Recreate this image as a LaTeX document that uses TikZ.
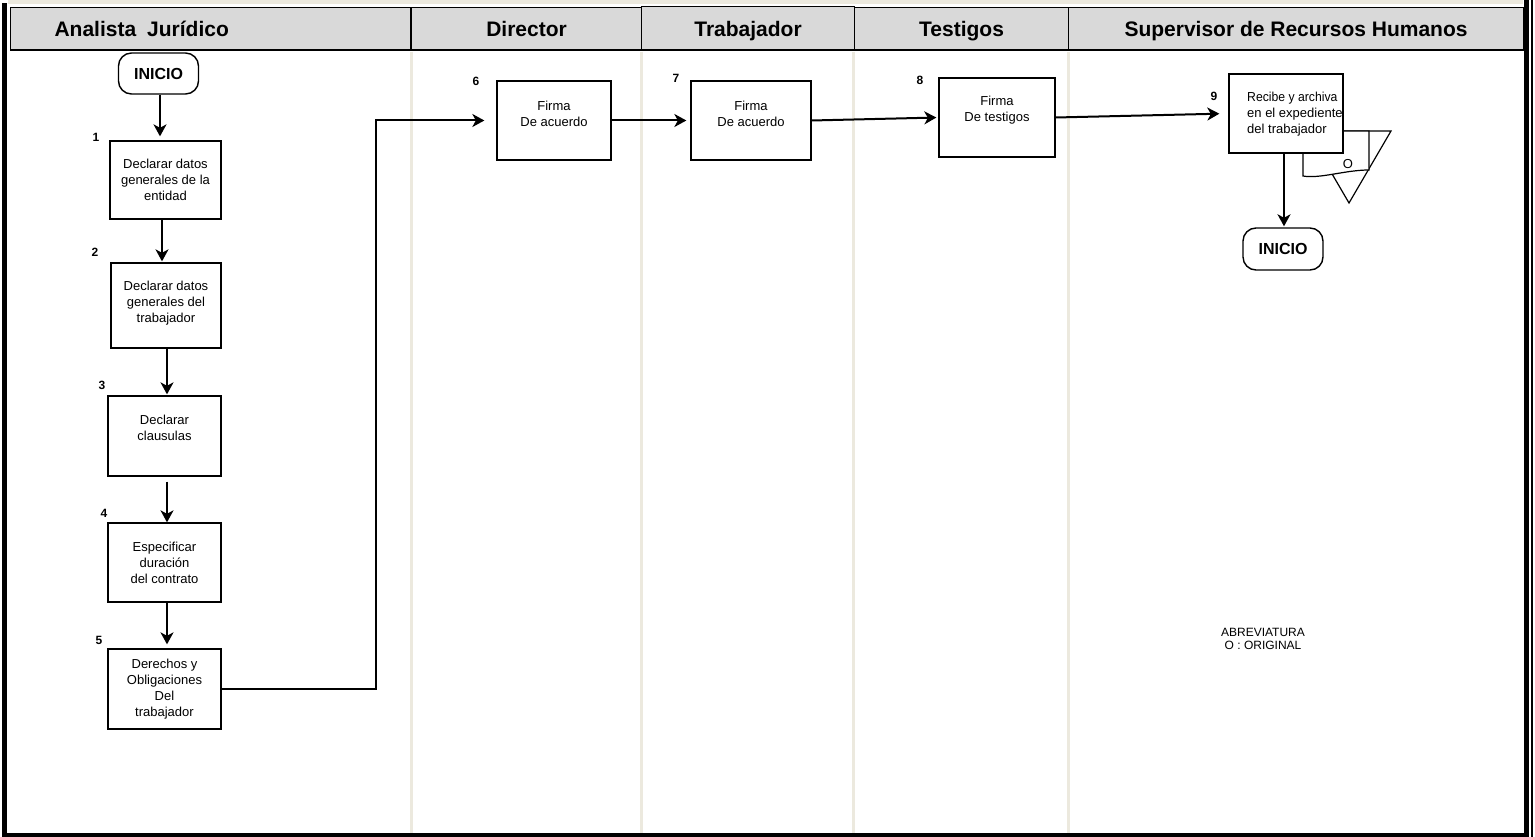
\documentclass[tikz,border=0pt]{standalone}
\usepackage{fontspec}
\setmainfont{Liberation Sans}
\usetikzlibrary{arrows.meta,calc}

\definecolor{headgray}{HTML}{D9D9D9}
\definecolor{laneline}{HTML}{ECE9DE}

% keep the box dimensions, move the lines up by #1
\newcommand{\liftlines}[2]{\raisebox{#1}[\height][\depth]{\begin{tabular}{@{}c@{}}#2\end{tabular}}}

\tikzset{
  lanehead/.style={draw=black, line width=1.1pt, fill=headgray, inner sep=0pt,
    text height=18pt, text depth=2pt,
    anchor=north west, font=\fontsize{21}{24}\selectfont\bfseries},
  stepbox/.style={draw=black, line width=1.3pt, fill=white, inner sep=0pt,
    align=center, font=\fontsize{13}{16}\selectfont},
  terminal/.style={draw=black, line width=1.4pt, rounded corners=13pt, fill=white,
    inner sep=0pt, minimum width=80pt, minimum height=41pt,
    font=\fontsize{16}{18}\selectfont\bfseries},
  stepnum/.style={inner sep=0pt, font=\fontsize{12}{13}\selectfont\bfseries},
  flow/.style={line width=2pt, -{Stealth[length=12pt,width=13pt,inset=3.5pt]}},
  symbol/.style={draw=black, line width=1.2pt, fill=white},
}

\begin{document}
\begin{tikzpicture}[x=1pt,y=-1pt]
  \useasboundingbox (0,0) rectangle (1535,837);
  \fill[white] (0,0) rectangle (1535,837);

  % lane separators
  \foreach \lx in {411,641,853,1068}
    \draw[laneline, line width=3pt] (\lx,52) -- (\lx,837);

  % outer frame
  \fill[laneline] (8,0) rectangle (1523,4);
  \fill[black] (2,3) rectangle (7,837);
  \fill[black] (2,833) rectangle (1529,837);
  \fill[black] (1524,0) rectangle (1529,837);
  \draw[line width=1.2pt] (1532,0) -- (1532,837);

  % lane headers
  \node[lanehead, minimum height=42pt, text width=312pt, inner xsep=44pt, align=left]
    (hAnalista) at (10,7) {Analista\hspace{4pt} Jurídico};
  \node[lanehead, minimum width=230pt, minimum height=42pt] (hDirector) at (411,7) {Director};
  \node[lanehead, minimum width=213pt, minimum height=44pt, yshift=-1pt] (hTrabajador) at (641,5) {Trabajador};
  \node[lanehead, minimum width=214pt, minimum height=42pt] (hTestigos) at (854,7) {Testigos};
  \node[lanehead, minimum width=455pt, minimum height=42pt] (hSupervisor) at (1068,7)
    {Supervisor de Recursos Humanos};
  \draw[line width=2.6pt] (hAnalista.south west) -- (hSupervisor.south east);

  % Analista Juridico lane
  \node[terminal] (ini) at (158.5,73.5) {INICIO};
  \node[stepbox, minimum width=111pt, minimum height=78pt] (b1) at (165.5,180)
    {Declarar datos\\generales de la\\entidad};
  \node[stepbox, minimum width=110pt, minimum height=85pt] (b2) at (166,305.5)
    {\liftlines{2pt}{Declarar datos\\generales del\\trabajador}};
  \node[stepbox, minimum width=113pt, minimum height=80pt] (b3) at (164.5,436)
    {\liftlines{7pt}{Declarar\\clausulas}};
  \node[stepbox, minimum width=113pt, minimum height=79pt] (b4) at (164.5,562.5)
    {Especificar\\duración\\del contrato};
  \node[stepbox, minimum width=113pt, minimum height=80pt] (b5) at (164.5,689)
    {Derechos y\\Obligaciones\\Del\\trabajador};

  \node[stepnum] (n1) at (96,137) {1};
  \node[stepnum] (n2) at (95,252) {2};
  \node[stepnum] (n3) at (102,385) {3};
  \node[stepnum] (n4) at (104,513) {4};
  \node[stepnum] (n5) at (99,640) {5};

  % Director, Trabajador, Testigos lanes
  \node[stepbox, minimum width=114pt, minimum height=79pt] (b6) at (554,120.5)
    {\liftlines{5pt}{Firma\\De acuerdo}};
  \node[stepbox, minimum width=120pt, minimum height=79pt] (b7) at (751,120.5)
    {\liftlines{5pt}{Firma\\De acuerdo}};
  \node[stepbox, minimum width=116pt, minimum height=79pt] (b8) at (997,117.5)
    {\liftlines{7pt}{Firma\\De testigos}};

  \node[stepnum] (n6) at (476,81) {6};
  \node[stepnum] (n7) at (676,78) {7};
  \node[stepnum] (n8) at (920,80) {8};
  \node[stepnum] (n9) at (1214,96) {9};

  % Supervisor lane: archive triangle and document under the step box
  \path[symbol] (1307,131) -- (1391,131) -- (1349,203) -- cycle;
  \path[symbol] (1303,131) -- (1369,131) -- (1369,170)
    .. controls (1345,170) and (1320,179) .. (1303,176) -- cycle;
  \node[inner sep=0pt, font=\fontsize{13}{16}\selectfont] (docO) at (1348,164) {O};

  \node[stepbox, minimum width=114pt, minimum height=79pt] (b9) at (1286,113.5) {};
  \begin{scope}
    \clip (b9.south west) rectangle (b9.north east);
    \node[anchor=north west, inner sep=0pt, align=left,
      font=\fontsize{13}{16}\selectfont] (t9) at (1247,91.5)
      {\scalebox{0.94}[1]{Recibe y archiva}\\en el expediente\\del trabajador};
  \end{scope}
  \node[terminal, minimum height=42pt] (fin) at (1283,249) {INICIO};

  \node[align=center, inner sep=0pt, font=\fontsize{12}{12.5}\selectfont] (abrev)
    at (1263,639) {ABREVIATURA\\O : ORIGINAL};

  % connectors
  \coordinate (xa) at (160,0);
  \coordinate (xb) at (162,0);
  \coordinate (xc) at (167,0);
  \coordinate (xd) at (376,0);
  \coordinate (xe) at (1284,0);

  \draw[flow, shorten >=4pt] (ini.south -| xa) -- (b1.north -| xa);
  \draw[flow, shorten >=1pt] (b1.south -| xb) -- (b2.north -| xb);
  \draw[flow, shorten >=1pt] (b2.south -| xc) -- (b3.north -| xc);
  \draw[flow, shorten <=5pt] (b3.south -| xc) -- (b4.north -| xc);
  \draw[flow, shorten >=4pt] (b4.south -| xc) -- (b5.north -| xc);
  \draw[flow, shorten >=12pt] (b5.east) -- (b5.east -| xd) |- (b6.west);
  \draw[flow, shorten >=4pt] (b6.east) -- (b7.west);
  \draw[flow, shorten >=2pt] (b7.east) -- (b8.west);
  \draw[flow, shorten >=9pt] (b8.east) -- (b9.west);
  \draw[flow, shorten >=1pt] (b9.south -| xe) -- (fin.north -| xe);
\end{tikzpicture}
\end{document}
